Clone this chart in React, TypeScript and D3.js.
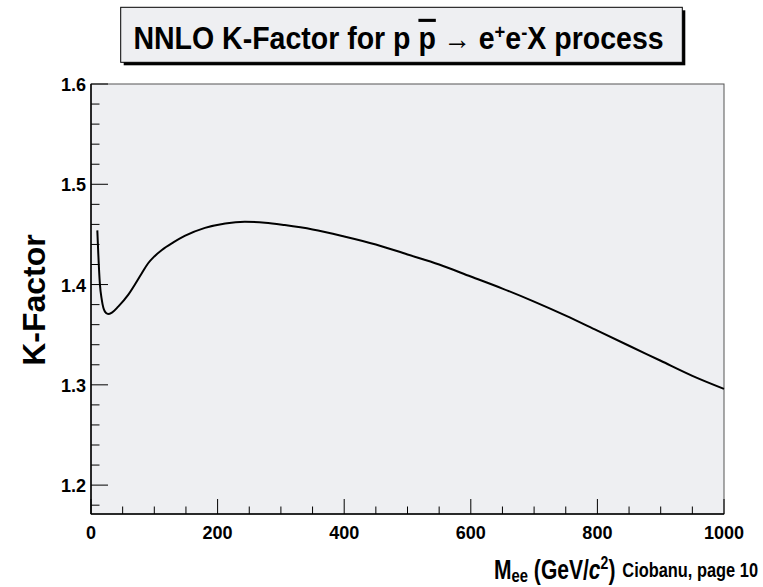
import React from "react";
import * as d3 from "d3";

const massGeV = [10, 11.5, 14, 17, 22, 27, 33, 43, 59, 80, 90, 100, 112, 130, 148, 180, 212, 243, 275, 306, 350, 400, 450, 500, 550, 600, 650, 700, 750, 800, 850, 900, 950, 1000];
const kFactor = [1.454, 1.431, 1.401, 1.385, 1.373, 1.3706, 1.372, 1.378, 1.39, 1.411, 1.421, 1.428, 1.4345, 1.442, 1.4485, 1.4565, 1.461, 1.4627, 1.4617, 1.4593, 1.455, 1.448, 1.44, 1.43, 1.42, 1.408, 1.396, 1.383, 1.369, 1.354, 1.339, 1.324, 1.309, 1.296];
const xMajorTicks = [0, 200, 400, 600, 800, 1000];
const yMajorTicks = [1.2, 1.3, 1.4, 1.5, 1.6];
const titleText = "NNLO K-Factor for p";
const yTitle = "K-Factor";
const footer = "Ciobanu,  page 10";

const W = 763, H = 587;
const L = 91, R = 724, T = 84, B = 514;
const FONT = "'Liberation Sans', Arial, Helvetica, sans-serif";

export default function App() {
  const x = d3.scaleLinear().domain([0, 1000]).range([L, R]);
  const y = d3.scaleLinear().domain([1.1712, 1.6]).range([B, T]);
  const xMinor = d3.range(0, 1000.1, 50).filter((v) => !xMajorTicks.includes(v));
  const yMinor = d3.range(1.18, 1.6001, 0.02).filter((v) => !yMajorTicks.some((m) => Math.abs(m - v) < 1e-6));
  const pts = massGeV.map((m, i) => [m, kFactor[i]] as [number, number]);
  const line = d3.line<[number, number]>().x((d) => x(d[0])).y((d) => y(d[1])).curve(d3.curveMonotoneX);

  return (
    <svg width={W} height={H} style={{ position: "absolute", left: 0, top: 0, background: "#fff" }} fontFamily={FONT}>
      <rect x={0} y={0} width={W} height={H} fill="#fff" />
      {/* title box */}
      <rect x={123.7} y={10.3} width={561.6} height={55} fill="#000" />
      <rect x={120.7} y={7.3} width={561.6} height={55} fill="#eeeff2" stroke="#000" strokeWidth={1} />
      <g transform="translate(398.5,49) scale(0.92,1)">
        <text textAnchor="middle" fontSize={31} fontWeight="bold" fill="#000">
          {titleText} <tspan textDecoration="overline">p</tspan>
          <tspan fontWeight="normal" fontSize={30}>{" \u2192 "}</tspan>e
          <tspan fontSize={20} baselineShift="super">+</tspan>e
          <tspan fontSize={20} baselineShift="super">-</tspan>X process
        </text>
      </g>

      {/* frame */}
      <rect x={L} y={T} width={R - L} height={B - T} fill="#eeeff2" stroke="#555" strokeWidth={1} />
      <path d={line(pts) || ""} fill="none" stroke="#000" strokeWidth={2} />
      <line x1={L} y1={B} x2={R} y2={B} stroke="#000" strokeWidth={1.5} />
      <line x1={L} y1={T} x2={L} y2={B} stroke="#000" strokeWidth={1.5} />

      {/* x ticks */}
      {xMajorTicks.map((v) => (
        <g key={"xm" + v}>
          <line x1={x(v)} x2={x(v)} y1={B} y2={B - 15} stroke="#000" strokeWidth={1} />
          <g transform={`translate(${x(v)},539) scale(0.95,1)`}>
            <text textAnchor="middle" fontSize={19} fontWeight="bold">{v}</text>
          </g>
        </g>
      ))}
      {xMinor.map((v) => (
        <line key={"xn" + v} x1={x(v)} x2={x(v)} y1={B} y2={B - 7.5} stroke="#000" strokeWidth={1} />
      ))}

      {/* y ticks */}
      {yMajorTicks.map((v) => (
        <g key={"ym" + v}>
          <line x1={L} x2={L + 17} y1={y(v)} y2={y(v)} stroke="#000" strokeWidth={1} />
          <g transform={`translate(86,${y(v) + 7}) scale(0.95,1)`}>
            <text textAnchor="end" fontSize={19} fontWeight="bold">{v.toFixed(1)}</text>
          </g>
        </g>
      ))}
      {yMinor.map((v) => (
        <line key={"yn" + v.toFixed(2)} x1={L} x2={L + 8.5} y1={y(v)} y2={y(v)} stroke="#000" strokeWidth={1} />
      ))}

      {/* y title */}
      <text transform="translate(45,300) rotate(-90)" textAnchor="middle" fontSize={32} fontWeight="bold">{yTitle}</text>

      {/* x title */}
      <g transform="translate(494,579) scale(0.78,1)">
        <text x={0} y={0} fontSize={27} fontWeight="bold">
          M<tspan fontSize={19} dy={3}>ee</tspan>
          <tspan dy={-3}>{" (GeV/"}</tspan>
          <tspan fontStyle="italic">c</tspan>
          <tspan fontSize={18} dy={-10}>2</tspan>
          <tspan dy={10}>)</tspan>
        </text>
      </g>
      <g transform="translate(758,577) scale(0.8,1)">
        <text x={0} y={0} textAnchor="end" fontSize={20.5} fontWeight="bold">{footer}</text>
      </g>
    </svg>
  );
}
